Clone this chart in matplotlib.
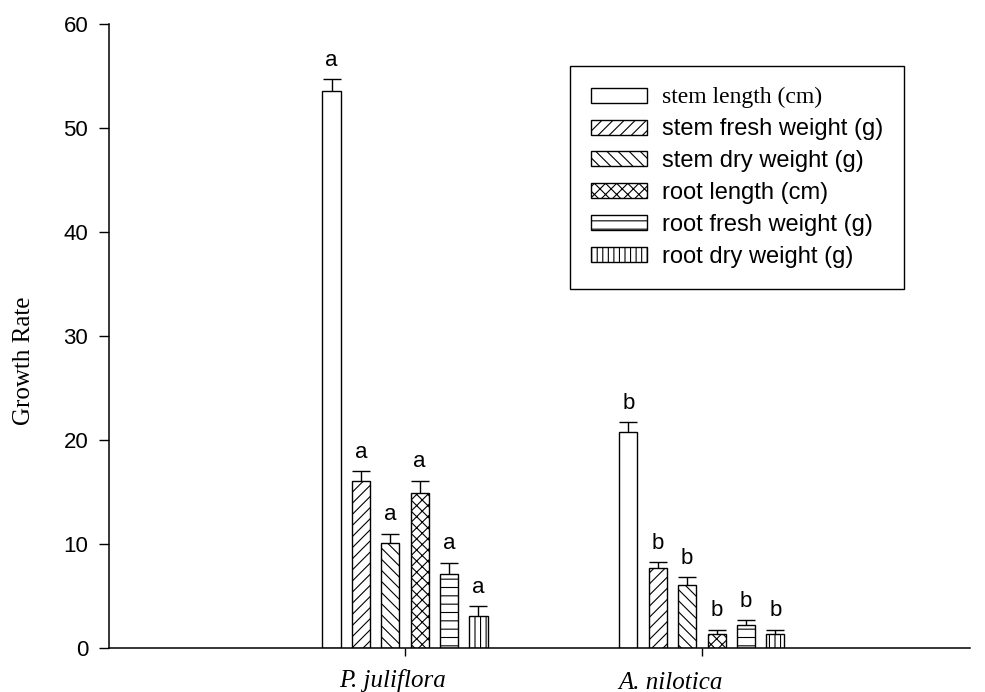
import numpy as np
import matplotlib
matplotlib.use("Agg")
import matplotlib.pyplot as plt
import matplotlib.transforms as mtransforms

# data
species = ["P. juliflora", "A. nilotica"]
traits = ["stem length (cm)", "stem fresh weight (g)", "stem dry weight (g)",
          "root length (cm)", "root fresh weight (g)", "root dry weight (g)"]
juliflora = [53.6, 16.1, 10.1, 14.9, 7.1, 3.1]
juliflora_err = [1.1, 0.9, 0.9, 1.2, 1.1, 0.9]
nilotica = [20.8, 7.7, 6.1, 1.35, 2.2, 1.35]
nilotica_err = [0.9, 0.55, 0.7, 0.4, 0.5, 0.4]
letters = [["a"] * 6, ["b"] * 6]

hatches = ["", "///", "\\\\\\", "xxx", "--", "|||"]

plt.rcParams["font.family"] = ["Liberation Sans", "DejaVu Sans"]
plt.rcParams["hatch.linewidth"] = 0.8
plt.rcParams["font.size"] = 16

fig = plt.figure(figsize=(9.85, 6.92), dpi=100)
ax = fig.add_axes([109 / 985, 44 / 692, 861 / 985, 624 / 692])

values = [juliflora, nilotica]
errors = [juliflora_err, nilotica_err]
group_x = np.arange(len(species))
step = 0.099
width = 0.061

for i, trait in enumerate(traits):
    xs = group_x + (i - 2.5) * step
    ys = np.array([values[g][i] for g in range(len(species))])
    es = np.array([errors[g][i] for g in range(len(species))])
    ax.bar(xs, ys, width=width, color="white", edgecolor="black",
           linewidth=1.0, hatch=hatches[i], label=trait, zorder=2)
    # upper error bar only, with a cap at the top
    ax.vlines(xs, ys, ys + es, color="black", linewidth=1.0, zorder=3)
    ax.plot(xs, ys + es, "_", color="black", markersize=13, markeredgewidth=1.0,
            zorder=3)
    for g in range(len(species)):
        ax.annotate(letters[g][i], (xs[g], ys[g] + es[g]), xytext=(0, 6),
                    textcoords="offset points", ha="center", va="bottom",
                    fontsize=16)

ax.set_xlim(-0.997, 1.903)
ax.set_ylim(0, 60)
ax.set_yticks(range(0, 61, 10))
ax.set_xticks(group_x)
ax.set_xticklabels([])
ax.tick_params(axis="y", direction="out", length=7, width=1.0, pad=8, labelsize=16)
ax.tick_params(axis="x", direction="out", length=6, width=1.0)
ax.spines["top"].set_visible(False)
ax.spines["right"].set_visible(False)
ax.spines["left"].set_linewidth(1.1)
ax.spines["bottom"].set_linewidth(1.1)

# species names, slightly off the ticks as in the original
trans = mtransforms.blended_transform_factory(ax.transData, ax.transAxes)
name_dx = [-0.042, -0.104]
name_y = [-0.033, -0.038]
for g, name in enumerate(species):
    ax.text(group_x[g] + name_dx[g], name_y[g], name, transform=trans,
            ha="center", va="top", fontsize=18, style="italic",
            family="Liberation Serif")

ax.set_ylabel("Growth Rate", family="Liberation Serif", fontsize=18)
ax.yaxis.set_label_coords(-0.086, 0.46)

leg = ax.legend(loc="upper left", bbox_to_anchor=(570 / 985, 1 - 66 / 692),
                bbox_transform=fig.transFigure, fontsize=17, frameon=True,
                fancybox=False, edgecolor="black", framealpha=1,
                handlelength=2.35, handleheight=0.6, handletextpad=0.64,
                labelspacing=0.42, borderpad=0.9, borderaxespad=0)
leg.get_frame().set_linewidth(1.0)
leg.get_texts()[0].set_family("Liberation Serif")

fig.savefig("out.png", dpi=100)
